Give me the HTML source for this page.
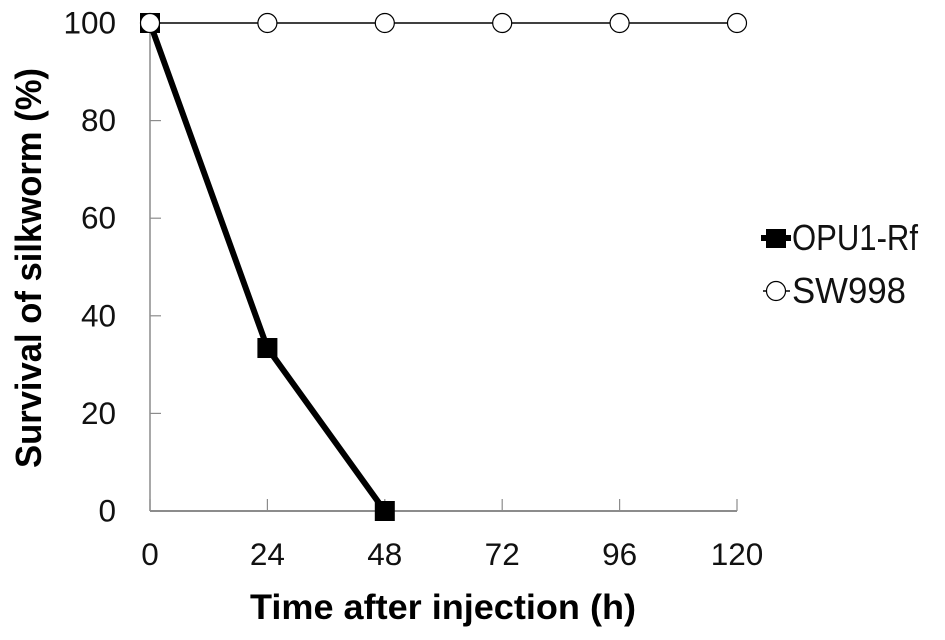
<!DOCTYPE html>
<html lang="en">
<head>
<meta charset="utf-8">
<title>Survival of silkworm</title>
<style>
  html, body { margin: 0; padding: 0; background: #fff; }
  svg { display: block; font-family: "Liberation Sans", sans-serif; }
</style>
</head>
<body>
<svg id="chart" xmlns="http://www.w3.org/2000/svg" width="945" height="640" viewBox="0 0 945 640"></svg>
<script>
const xTicks = [0, 24, 48, 72, 96, 120];
const yTicks = [0, 20, 40, 60, 80, 100];
const opuTimes = [0, 24, 48];
const opuValues = [100, 33.4, 0];
const swTimes = [0, 24, 48, 72, 96, 120];
const swValues = [100, 100, 100, 100, 100, 100];

const svg = document.getElementById('chart');
const NS = 'http://www.w3.org/2000/svg';
const xAt = v => 150 + (v / 120) * 587;
const yAt = v => 511 - (v / 100) * 488;

function make(tag, attrs, text) {
  const el = document.createElementNS(NS, tag);
  for (const k in attrs) el.setAttribute(k, attrs[k]);
  if (text !== undefined) el.textContent = text;
  svg.appendChild(el);
  return el;
}

let el;
el = make('line', {x1: xAt(0), y1: yAt(0), x2: xAt(0), y2: yAt(100), stroke: '#8c8c8c', 'stroke-width': 1.5});


el = make('line', {x1: xAt(0), y1: yAt(0), x2: xAt(120), y2: yAt(0), stroke: '#8c8c8c', 'stroke-width': 2});



yTicks.forEach(v => {
  el = make('line', {x1: xAt(0), y1: yAt(v), x2: xAt(0) + 11, y2: yAt(v), stroke: '#8c8c8c', 'stroke-width': 1.2});
  
  
  el = make('text', {x: 116, y: yAt(v) + 10.5, 'text-anchor': 'end', 'font-size': 31.5, fill: '#111'}, String(v));
  
  
});

xTicks.forEach(v => {
  el = make('line', {x1: xAt(v), y1: yAt(0), x2: xAt(v), y2: yAt(0) - 12, stroke: '#8c8c8c', 'stroke-width': 1.2});
  
  
  el = make('text', {x: xAt(v), y: 565, 'text-anchor': 'middle', 'font-size': 31.5, fill: '#111'}, String(v));
  
  
});

el = make('polyline', {points: opuTimes.map((t, i) => xAt(t) + ',' + yAt(opuValues[i])).join(' '), fill: 'none', stroke: '#000', 'stroke-width': 6});


opuTimes.forEach((t, i) => {
  el = make('rect', {x: xAt(t) - 10, y: yAt(opuValues[i]) - 10, width: 20, height: 20, fill: '#000'});
  
  
});

el = make('polyline', {points: swTimes.map((t, i) => xAt(t) + ',' + yAt(swValues[i])).join(' '), fill: 'none', stroke: '#000', 'stroke-width': 1.5});


swTimes.forEach((t, i) => {
  el = make('circle', {cx: xAt(t), cy: yAt(swValues[i]), r: 9.5, fill: '#fff', stroke: '#000', 'stroke-width': 1.2});
  
  
});

el = make('text', {x: 250, y: 619, 'font-size': 35, 'font-weight': 'bold', fill: '#000', textLength: 386, lengthAdjust: 'spacingAndGlyphs'}, 'Time after injection (h)');


el = make('text', {transform: 'translate(41,468) rotate(-90)', 'font-size': 36, 'font-weight': 'bold', fill: '#000', textLength: 400, lengthAdjust: 'spacingAndGlyphs'}, 'Survival of silkworm (%)');



el = make('line', {x1: 761, y1: 238, x2: 791, y2: 238, stroke: '#000', 'stroke-width': 6});


el = make('rect', {x: 766, y: 229, width: 20, height: 19, fill: '#000'});


el = make('text', {x: 792, y: 250, 'font-size': 36, fill: '#111', textLength: 126, lengthAdjust: 'spacingAndGlyphs'}, 'OPU1-Rf');



el = make('line', {x1: 763, y1: 291, x2: 790, y2: 291, stroke: '#000', 'stroke-width': 1.5});


el = make('circle', {cx: 776, cy: 291, r: 9.5, fill: '#fff', stroke: '#000', 'stroke-width': 1.2});


el = make('text', {x: 792, y: 303, 'font-size': 36, fill: '#111', textLength: 114, lengthAdjust: 'spacingAndGlyphs'}, 'SW998');


</script>
</body>
</html>
